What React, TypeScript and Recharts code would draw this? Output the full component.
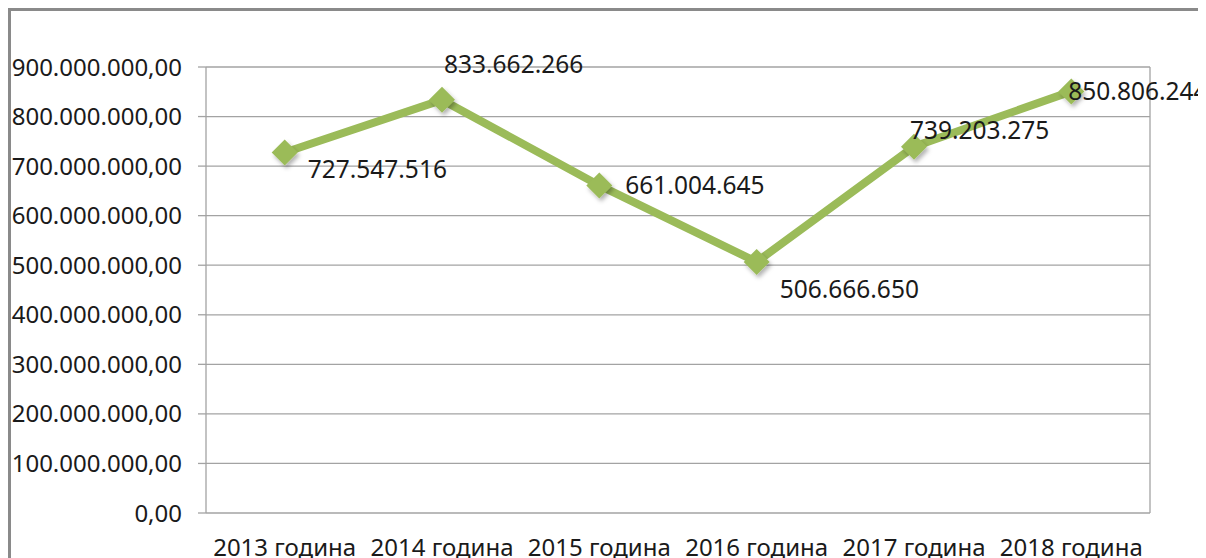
import React from 'react';
import { LineChart, Line, XAxis, YAxis, CartesianGrid, LabelList } from 'recharts';

const CATEGORIES = ['2013 година', '2014 година', '2015 година', '2016 година', '2017 година', '2018 година'];
const VALUES = [727547516, 833662266, 661004645, 506666650, 739203275, 850806244];
const Y_TICKS = [0, 100000000, 200000000, 300000000, 400000000, 500000000, 600000000, 700000000, 800000000, 900000000];
const GRID_TICKS = [0, 1, 2, 3, 4, 5, 6];

// label placement per point (dx, dy from the marker)
const LABEL_OFFSETS = [[23, 17], [2, -35], [26, 0], [23, 28], [-4, -16], [-3, 0]];

const FONT = '"Noto Sans", sans-serif';
const GRID = '#a3a3a3';
const GREEN = '#9bbb59';

const data = CATEGORIES.map((name, i) => ({ name, value: VALUES[i] }));

const fmtInt = (v: number) => Math.round(v).toString().replace(/\B(?=(\d{3})+(?!\d))/g, '.');
const fmtY = (v: number) => `${fmtInt(v)},00`;

const Diamond = (props: any) => {
  const { cx, cy } = props;
  if (cx == null || cy == null) return null;
  const r = 13;
  return (
    <path
      d={`M${cx},${cy - r} L${cx + r},${cy} L${cx},${cy + r} L${cx - r},${cy} Z`}
      fill={GREEN}
      filter="url(#shadow)"
    />
  );
};

const PointLabel = (props: any) => {
  const { x, y, value, index } = props;
  const [dx, dy] = LABEL_OFFSETS[index] || [0, 0];
  return (
    <text x={x + dx} y={y + dy} dy="0.35em" textAnchor="start"
      style={{ fontFamily: FONT, fontSize: 24.5, fill: '#1a1a1a' }}>
      {fmtInt(value)}
    </text>
  );
};

export default function App() {
  return (
    <div style={{ position: 'relative', width: 1198, height: 550 }}>
      {/* frame runs off the right/bottom edge like the original; hide scrollbars */}
      <style>{`html, body { overflow: hidden; } ::-webkit-scrollbar { width: 0; height: 0; display: none; }`}</style>
      <div style={{
        position: 'absolute', left: 0, top: 0, right: -20, bottom: -20,
        borderLeft: '3px solid #8a8a8a', borderTop: '3px solid #8a8a8a',
      }} />
      <div style={{ position: 'absolute', left: 0, top: 0 }}>
        <LineChart width={1198} height={550} data={data}
          margin={{ top: 59, right: 56, left: 0, bottom: 0 }}
          style={{ overflow: 'visible' }}>
          <defs>
            <filter id="shadow" x="-50%" y="-50%" width="200%" height="200%">
              <feDropShadow dx="2" dy="3" stdDeviation="2" floodColor="#000" floodOpacity="0.3" />
            </filter>
          </defs>
          <CartesianGrid xAxisId="grid" stroke={GRID} strokeWidth={1.3} />
          <XAxis xAxisId="grid" type="number" domain={[0, 6]} ticks={GRID_TICKS}
            height={0} tick={false} tickSize={8} allowDataOverflow
            tickLine={{ stroke: GRID, strokeWidth: 1.3 }} axisLine={{ stroke: GRID, strokeWidth: 1.3 }} />
          <XAxis xAxisId="cat" dataKey="name" height={45}
            padding={{ left: 78.67, right: 78.67 }}
            tickLine={false} axisLine={false} tickSize={8} tickMargin={18}
            interval={0}
            tick={{ fontFamily: FONT, fontSize: 24, fill: '#1a1a1a' }} />
          <YAxis width={198} domain={[0, 900000000]} ticks={Y_TICKS} tickFormatter={fmtY}
            tickSize={8} tickMargin={16} axisLine={false}
            tickLine={{ stroke: GRID, strokeWidth: 1.3 }}
            tick={{ fontFamily: FONT, fontSize: 24, fill: '#1a1a1a' }} />
          <Line xAxisId="cat" dataKey="value" stroke={GREEN} strokeWidth={8}
            dot={<Diamond />} activeDot={false} isAnimationActive={false}>
            <LabelList dataKey="value" content={<PointLabel />} />
          </Line>
        </LineChart>
      </div>
    </div>
  );
}
